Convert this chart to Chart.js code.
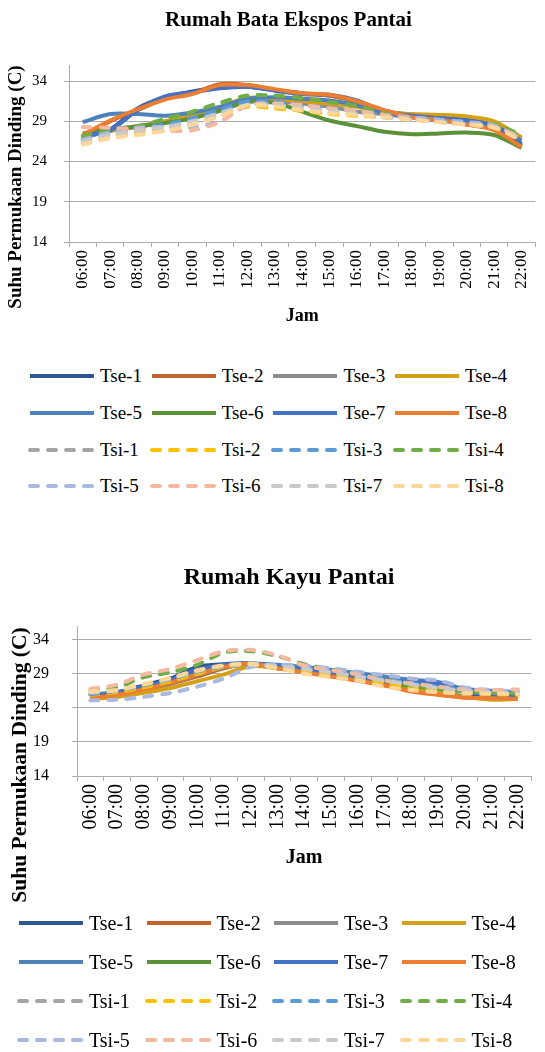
<!DOCTYPE html>
<html lang="id">
<head>
<meta charset="utf-8">
<title>Suhu Permukaan Dinding</title>
<script src="https://cdn.jsdelivr.net/npm/chart.js@4.4.1/dist/chart.umd.min.js"></script>
<style>
    body { margin: 0; background: #fff; }
    #halaman { position: relative; width: 545px; height: 1052px; overflow: hidden; }
    .grafik { position: absolute; left: 0; width: 545px; }
    .legenda { position: absolute; display: grid; font-family: 'Liberation Serif', 'Times New Roman', serif; color: #000; }
    .item-legenda { display: flex; align-items: center; white-space: nowrap; }
    .item-legenda svg { margin-right: 4px; flex: none; }
</style>
</head>
<body>
<div id="halaman">
    <div class="grafik" style="top:0; height:340px;"><canvas id="grafik-bata" width="545" height="340"></canvas></div>
    <div id="legenda-bata" class="legenda" style="top:358px; left:28px; grid-template-columns:repeat(4, 121.7px); grid-auto-rows:36.7px; font-size:19px;"></div>
    <div class="grafik" style="top:560px; height:350px;"><canvas id="grafik-kayu" width="545" height="350"></canvas></div>
    <div id="legenda-kayu" class="legenda" style="top:903.5px; left:17px; grid-template-columns:repeat(4, 127.5px); grid-auto-rows:39px; font-size:20px;"></div>
</div>
<script>
// Data jam pengukuran dan skala sumbu Y
const jam = ["06:00", "07:00", "08:00", "09:00", "10:00", "11:00", "12:00", "13:00", "14:00",
             "15:00", "16:00", "17:00", "18:00", "19:00", "20:00", "21:00", "22:00"];
const tickSuhu = [14, 19, 24, 29, 34];

const namaSeri = ["Tse-1", "Tse-2", "Tse-3", "Tse-4", "Tse-5", "Tse-6", "Tse-7", "Tse-8",
                  "Tsi-1", "Tsi-2", "Tsi-3", "Tsi-4", "Tsi-5", "Tsi-6", "Tsi-7", "Tsi-8"];
const warnaSeri = ["#2e5594", "#c4622c", "#8c8c8c", "#d4a017", "#4f81bd", "#5b9237", "#4472c4", "#ed7d31",
                   "#a5a5a5", "#ffc000", "#5b9bd5", "#70ad47", "#a9b8e0", "#f4b9a0", "#c9c9c9", "#ffd899"];

// Rumah Bata Ekspos Pantai
const bataTse1 = [27.0, 28.0, 30.6, 32.0, 32.7, 33.2, 33.3, 32.9, 32.5, 32.2, 31.5, 30.3, 29.8, 29.5, 29.2, 28.5, 26.0];
const bataTse2 = [27.1, 29.0, 30.4, 31.8, 32.5, 33.6, 33.5, 32.9, 32.4, 32.2, 31.4, 30.3, 29.6, 29.2, 28.6, 28.0, 25.9];
const bataTse3 = [27.0, 27.8, 28.3, 28.9, 29.8, 30.6, 31.5, 31.5, 31.2, 30.8, 30.2, 29.9, 29.5, 29.2, 28.9, 28.6, 26.9];
const bataTse4 = [27.3, 27.9, 28.4, 29.0, 29.8, 30.8, 31.9, 31.8, 31.5, 31.2, 30.8, 30.1, 29.9, 29.8, 29.6, 29.0, 27.0];
const bataTse5 = [28.9, 29.9, 29.9, 29.7, 30.1, 30.8, 31.8, 32.0, 31.8, 31.6, 31.0, 30.0, 29.5, 29.1, 28.8, 28.4, 26.6];
const bataTse6 = [27.5, 28.0, 28.4, 28.8, 29.4, 30.3, 31.4, 31.3, 30.2, 29.1, 28.4, 27.7, 27.4, 27.5, 27.6, 27.3, 25.7];
const bataTse7 = [27.2, 27.9, 30.4, 32.1, 32.6, 33.1, 33.3, 32.8, 32.4, 32.3, 31.6, 30.2, 29.7, 29.4, 29.1, 28.4, 26.2];
const bataTse8 = [27.3, 29.1, 30.5, 31.7, 32.4, 33.5, 33.5, 33.0, 32.5, 32.3, 31.5, 30.4, 29.5, 29.2, 28.6, 27.9, 25.8];
const bataTsi1 = [26.6, 27.4, 28.0, 28.5, 29.3, 30.2, 31.2, 31.3, 31.0, 30.6, 30.2, 29.7, 29.3, 29.0, 28.7, 28.4, 27.0];
const bataTsi2 = [26.3, 27.1, 27.5, 28.0, 28.8, 29.7, 30.8, 30.6, 30.3, 29.9, 29.7, 29.5, 29.2, 29.0, 28.6, 28.2, 26.7];
const bataTsi3 = [26.8, 27.5, 28.1, 28.6, 29.4, 30.4, 31.5, 31.4, 31.0, 30.6, 30.1, 29.7, 29.4, 29.1, 28.8, 28.5, 26.9];
const bataTsi4 = [27.2, 27.9, 28.4, 29.3, 30.2, 31.3, 32.2, 32.2, 31.9, 31.4, 30.9, 30.0, 29.4, 29.1, 28.8, 28.6, 27.3];
const bataTsi5 = [26.7, 27.6, 28.2, 28.3, 28.3, 29.0, 31.0, 31.2, 31.0, 30.6, 30.3, 29.8, 29.5, 29.2, 28.9, 28.5, 26.8];
const bataTsi6 = [28.3, 28.2, 28.0, 27.8, 27.9, 28.9, 31.0, 31.2, 31.0, 30.6, 30.3, 29.8, 29.3, 28.9, 28.6, 28.3, 27.0];
const bataTsi7 = [26.5, 27.3, 27.8, 28.3, 29.0, 30.0, 31.0, 31.0, 30.7, 30.3, 29.9, 29.5, 29.2, 28.9, 28.6, 28.3, 26.8];
const bataTsi8 = [26.1, 26.9, 27.3, 27.8, 28.6, 29.6, 31.0, 30.8, 30.4, 30.0, 29.8, 29.5, 29.2, 28.9, 28.6, 28.2, 26.6];

// Rumah Kayu Pantai
const kayuTse1 = [25.8, 26.3, 27.3, 28.3, 30.0, 30.4, 30.5, 29.9, 29.4, 28.7, 28.1, 27.4, 26.6, 26.2, 25.7, 25.5, 25.4];
const kayuTse2 = [25.6, 25.9, 26.6, 27.5, 28.6, 29.8, 30.5, 29.8, 29.3, 28.7, 28.0, 27.3, 26.5, 26.0, 25.5, 25.4, 25.3];
const kayuTse3 = [25.7, 26.0, 26.8, 27.6, 28.8, 29.9, 30.4, 30.0, 29.5, 29.0, 28.5, 28.0, 27.5, 27.0, 26.5, 26.0, 25.8];
const kayuTse4 = [25.3, 25.6, 26.2, 26.9, 27.9, 28.9, 30.1, 29.8, 29.3, 28.8, 28.2, 27.6, 26.8, 26.2, 25.6, 25.2, 25.3];
const kayuTse5 = [25.9, 26.3, 27.0, 28.0, 29.3, 30.2, 30.5, 30.3, 30.0, 29.6, 29.1, 28.6, 28.1, 27.8, 26.8, 26.5, 26.3];
const kayuTse6 = [25.8, 26.1, 26.9, 27.8, 29.0, 30.0, 30.5, 30.0, 29.6, 29.1, 28.5, 27.8, 27.2, 26.8, 26.4, 26.0, 25.9];
const kayuTse7 = [25.7, 26.2, 27.1, 28.1, 29.6, 30.3, 30.5, 30.1, 29.6, 29.1, 28.6, 28.0, 27.8, 27.5, 26.4, 25.9, 25.6];
const kayuTse8 = [25.5, 25.9, 26.7, 27.7, 28.9, 30.0, 30.5, 29.8, 29.2, 28.6, 28.0, 27.3, 26.4, 25.9, 25.5, 25.4, 25.3];
const kayuTsi1 = [26.0, 26.4, 27.2, 28.1, 29.2, 30.1, 30.4, 30.0, 29.6, 29.2, 28.7, 28.1, 27.5, 27.0, 26.5, 26.1, 26.0];
const kayuTsi2 = [25.9, 26.3, 27.0, 27.9, 29.0, 30.0, 30.4, 30.0, 29.5, 29.0, 28.4, 27.7, 27.0, 26.6, 26.2, 26.0, 25.9];
const kayuTsi3 = [26.0, 26.5, 27.3, 28.2, 29.3, 30.1, 30.5, 30.2, 29.8, 29.3, 28.7, 28.2, 27.6, 27.1, 26.6, 26.3, 26.1];
const kayuTsi4 = [26.5, 27.0, 28.5, 29.2, 30.3, 32.1, 32.3, 31.6, 30.4, 29.6, 28.9, 28.1, 27.3, 26.9, 26.4, 26.2, 26.1];
const kayuTsi5 = [25.1, 25.2, 25.6, 26.2, 27.1, 28.3, 30.0, 30.3, 30.2, 29.8, 29.3, 28.8, 28.3, 28.0, 27.0, 26.6, 26.4];
const kayuTsi6 = [26.8, 27.4, 28.9, 29.7, 31.0, 32.3, 32.5, 31.7, 30.2, 29.5, 28.9, 28.0, 27.6, 27.1, 26.7, 26.6, 26.7];
const kayuTsi7 = [26.2, 26.6, 27.4, 28.3, 29.4, 30.2, 30.5, 30.1, 29.7, 29.2, 28.6, 28.0, 27.4, 26.9, 26.5, 26.2, 26.1];
const kayuTsi8 = [26.4, 26.6, 27.5, 28.4, 29.5, 30.2, 30.4, 29.8, 29.0, 28.5, 28.0, 27.1, 26.6, 26.3, 26.1, 26.1, 26.0];

const seriBata = [bataTse1, bataTse2, bataTse3, bataTse4, bataTse5, bataTse6, bataTse7, bataTse8,
                  bataTsi1, bataTsi2, bataTsi3, bataTsi4, bataTsi5, bataTsi6, bataTsi7, bataTsi8];
const seriKayu = [kayuTse1, kayuTse2, kayuTse3, kayuTse4, kayuTse5, kayuTse6, kayuTse7, kayuTse8,
                  kayuTsi1, kayuTsi2, kayuTsi3, kayuTsi4, kayuTsi5, kayuTsi6, kayuTsi7, kayuTsi8];

const hurufSerif = "'Liberation Serif', 'Times New Roman', serif";
const warnaGaris = "#ababab";
const polaPutus = [8, 10];

// judul sumbu Y digambar sendiri supaya posisinya bisa diatur
const judulSumbuY = {
    id: 'judulSumbuY',
    afterDraw(chart, args, opts) {
        const ctx = chart.ctx;
        ctx.save();
        ctx.translate(opts.x, opts.y);
        ctx.rotate(-Math.PI / 2);
        ctx.font = opts.font;
        ctx.fillStyle = "#000";
        ctx.textAlign = "center";
        ctx.textBaseline = "middle";
        ctx.fillText(opts.text, 0, 0);
        ctx.restore();
    }
};

function buatGrafik(idCanvas, judul, seri, u) {
    const datasets = seri.map((nilai, i) => {
        const putus = namaSeri[i].startsWith("Tsi");
        return {
            label: namaSeri[i],
            data: nilai,
            borderColor: warnaSeri[i],
            backgroundColor: warnaSeri[i],
            borderWidth: 4,
            borderDash: putus ? polaPutus : [],
            borderCapStyle: putus ? 'round' : 'butt',
            pointRadius: 0,
            tension: 0.3,
            fill: false,
            order: seri.length - i
        };
    });

    return new Chart(document.getElementById(idCanvas), {
        type: 'line',
        data: { labels: jam, datasets: datasets },
        options: {
            responsive: false,
            animation: false,
            layout: { padding: { left: u.kiri, right: 0, top: 0, bottom: 0 } },
            plugins: {
                legend: { display: false },
                tooltip: { enabled: false },
                title: {
                    display: true,
                    text: judul,
                    color: "#000",
                    font: { family: hurufSerif, size: u.ukuranJudul, weight: 'bold' },
                    padding: { top: u.judulAtas, bottom: u.judulBawah }
                },
                judulSumbuY: {
                    text: "Suhu Permukaan Dinding (C)",
                    x: u.sumbuYx,
                    y: u.sumbuYy,
                    font: `bold ${u.ukuranSumbuY}px ${hurufSerif}`
                }
            },
            scales: {
                x: {
                    offset: true,
                    grid: { offset: true, drawOnChartArea: false, drawTicks: true, tickLength: 5, color: warnaGaris },
                    border: { color: warnaGaris },
                    ticks: {
                        autoSkip: false, maxRotation: 90, minRotation: 90, padding: 3,
                        color: "#000", font: { family: hurufSerif, size: u.ukuranJam }
                    },
                    title: {
                        display: true, text: "Jam", color: "#000",
                        font: { family: hurufSerif, size: u.ukuranJamJudul, weight: 'bold' },
                        padding: { top: 0, bottom: u.jamBawah }
                    },
                    afterFit(s) { s.height = u.tinggiX; }
                },
                y: {
                    min: 14,
                    max: 36,
                    afterBuildTicks(s) { s.ticks = tickSuhu.map(v => ({ value: v })); },
                    grid: { color: warnaGaris, tickLength: 5 },
                    border: { color: warnaGaris },
                    ticks: { padding: u.padTickY, color: "#000", font: { family: hurufSerif, size: u.ukuranTickY } },
                    afterFit(s) { s.width = u.lebarY; }
                }
            }
        },
        plugins: [judulSumbuY]
    });
}

function buatLegenda(chart, idWadah) {
    const wadah = document.getElementById(idWadah);
    chart.data.datasets.forEach(ds => {
        const dash = ds.borderDash.length ? `stroke-dasharray="${ds.borderDash.join(' ')}" stroke-linecap="round"` : '';
        wadah.insertAdjacentHTML('beforeend', `
            <div class="item-legenda">
                <svg width="68" height="8"><line x1="2" y1="4" x2="66" y2="4" stroke="${ds.borderColor}" stroke-width="4" ${dash}/></svg>
                <span>${ds.label}</span>
            </div>`);
    });
}

const grafikBata = buatGrafik("grafik-bata", "Rumah Bata Ekspos Pantai", seriBata, {
    kiri: 32, lebarY: 37, padTickY: 17, ukuranTickY: 15,
    ukuranJudul: 21, judulAtas: 8, judulBawah: 31.8,
    tinggiX: 98, ukuranJam: 17, ukuranJamJudul: 18, jamBawah: 13,
    sumbuYx: 16, sumbuYy: 187, ukuranSumbuY: 19
});
buatLegenda(grafikBata, "legenda-bata");

const grafikKayu = buatGrafik("grafik-kayu", "Rumah Kayu Pantai", seriKayu, {
    kiri: 33, lebarY: 44, padTickY: 23, ukuranTickY: 16,
    ukuranJudul: 24, judulAtas: 3.6, judulBawah: 33.6,
    tinggiX: 134, ukuranJam: 20, ukuranJamJudul: 20, jamBawah: 40,
    sumbuYx: 20, sumbuYy: 205, ukuranSumbuY: 21.5
});
buatLegenda(grafikKayu, "legenda-kayu");
</script>
</body>
</html>
